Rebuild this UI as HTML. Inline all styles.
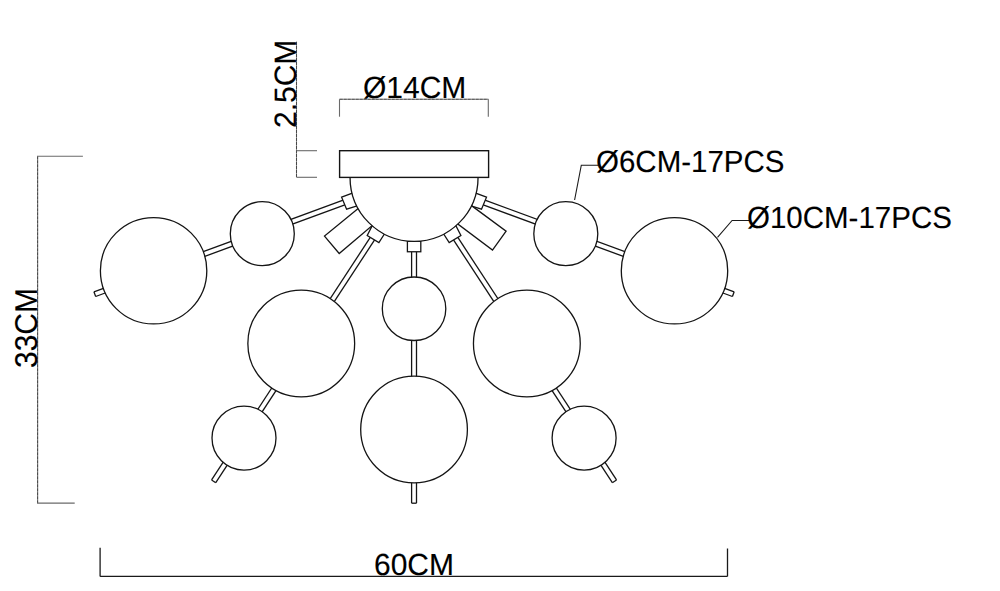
<!DOCTYPE html>
<html><head><meta charset="utf-8"><style>
html,body{margin:0;padding:0;background:#fff;}
body{width:1000px;height:591px;overflow:hidden;position:relative;}
svg{position:absolute;left:0;top:0;}
text{font-family:"Liberation Sans",sans-serif;font-size:30px;fill:#000;text-rendering:geometricPrecision;}
</style></head><body>
<svg width="1000" height="591" viewBox="0 0 1000 591">
<g stroke="#a0a0a0" stroke-width="1.05" fill="none">
<line x1="296.5" y1="41.8" x2="296.5" y2="177.3"/>
<line x1="339.5" y1="99.3" x2="488.3" y2="99.3"/>
<line x1="37.6" y1="156.3" x2="37.6" y2="503.1"/>
</g>
<g stroke="#484848" stroke-width="1.05" fill="none" stroke-dasharray="3.3 0.7">
<line x1="296.5" y1="41.8" x2="296.5" y2="177.3"/>
<line x1="339.5" y1="99.3" x2="488.3" y2="99.3"/>
<line x1="37.6" y1="156.3" x2="37.6" y2="503.1"/>
</g>
<g stroke="#6a6a6a" stroke-width="1.1" fill="none">
<line x1="296.5" y1="150.7" x2="317" y2="150.7"/>
<line x1="296.5" y1="177.3" x2="317" y2="177.3"/>
<line x1="339.5" y1="99.3" x2="339.5" y2="116.7"/>
<line x1="488.3" y1="99.3" x2="488.3" y2="116.7"/>
<line x1="37" y1="156.3" x2="82.9" y2="156.3"/>
<line x1="37" y1="503.1" x2="74.7" y2="503.1"/>
</g>
<g stroke="#1a1a1a" stroke-width="1.3" fill="none">
<line x1="100.1" y1="576.4" x2="727.5" y2="576.4"/>
<line x1="100.1" y1="547.8" x2="100.1" y2="576.4"/>
<line x1="727.5" y1="548.5" x2="727.5" y2="576.4"/>
<polyline points="574.6,200 581.3,165.2 598.4,165.2" stroke-width="1.1"/>
<polyline points="717.5,237.3 732.1,220.5 749.6,220.5" stroke-width="1.1"/>
</g>
<g fill="#fff" stroke="#141414" stroke-width="1.3">
<line x1="343.14" y1="200.2" x2="93.94" y2="291.8"/>
<line x1="344.86" y1="204.9" x2="95.66" y2="296.49"/>
<line x1="93.94" y1="291.8" x2="95.66" y2="296.49"/>
<line x1="370.91" y1="236.43" x2="211.59" y2="479.97"/>
<line x1="375.09" y1="239.17" x2="215.77" y2="482.71"/>
<line x1="211.59" y1="479.97" x2="215.77" y2="482.71"/>
<circle cx="262.3" cy="233.7" r="32"/>
<circle cx="153.6" cy="270.75" r="53.2"/>
<circle cx="301.25" cy="343.45" r="53.4"/>
<circle cx="244" cy="438.1" r="32"/>
<polygon points="341.6,197.2 352.41,193.07 357.21,205.94 346.6,209.2"/>
<polygon points="372.34,225.41 384.56,233.75 378.9,242.6 367.2,235.5"/>
<line x1="484.96" y1="200.2" x2="734.16" y2="291.8"/>
<line x1="483.24" y1="204.9" x2="732.44" y2="296.49"/>
<line x1="734.16" y1="291.8" x2="732.44" y2="296.49"/>
<line x1="457.19" y1="236.43" x2="616.51" y2="479.97"/>
<line x1="453.01" y1="239.17" x2="612.33" y2="482.71"/>
<line x1="616.51" y1="479.97" x2="612.33" y2="482.71"/>
<circle cx="565.8" cy="233.7" r="32"/>
<circle cx="674.5" cy="270.75" r="53.2"/>
<circle cx="526.85" cy="343.45" r="53.4"/>
<circle cx="584.1" cy="438.1" r="32"/>
<polygon points="486.5,197.2 475.69,193.07 470.89,205.94 481.5,209.2"/>
<polygon points="455.76,225.41 443.54,233.75 449.2,242.6 460.9,235.5"/>
<line x1="411.6" y1="251.75" x2="411.6" y2="503.2"/>
<line x1="416.5" y1="251.75" x2="416.5" y2="503.2"/>
<line x1="411.6" y1="503.2" x2="416.5" y2="503.2"/>
<circle cx="414.05" cy="308.75" r="31.75"/>
<circle cx="414.05" cy="429.55" r="53.35"/>
<rect x="407.4" y="241.3" width="13.4" height="10.45"/>
<polygon points="358.48,208.33 324.5,236.1 339.2,253.5 372.34,225.41"/>
<polygon points="471.16,205.39 506.1,231.2 492.5,250.1 457.55,223.8"/>
<path d="M350.05,177.4 A64,64 0 0 0 478.05,177.4"/>
<rect x="339.6" y="150.7" width="149" height="26.7" stroke-width="1.4"/>
</g>
<g fill="#000" stroke="#000" stroke-width="0.12"><text transform="translate(363,97.6) scale(1.0,1.02)">Ø14CM</text>
<text transform="translate(596,172) scale(0.983,1.02)">Ø6CM-17PCS</text>
<text transform="translate(747,227.6) scale(0.983,1.02)">Ø10CM-17PCS</text>
<text transform="translate(374,575.3) scale(1.0,1.02)">60CM</text>
<text transform="translate(295.8,128) rotate(-90) scale(1.0,1.03)">2.5CM</text>
<text transform="translate(37.3,368) rotate(-90) scale(1.0,1.05)">33CM</text></g>
</svg>
</body></html>
